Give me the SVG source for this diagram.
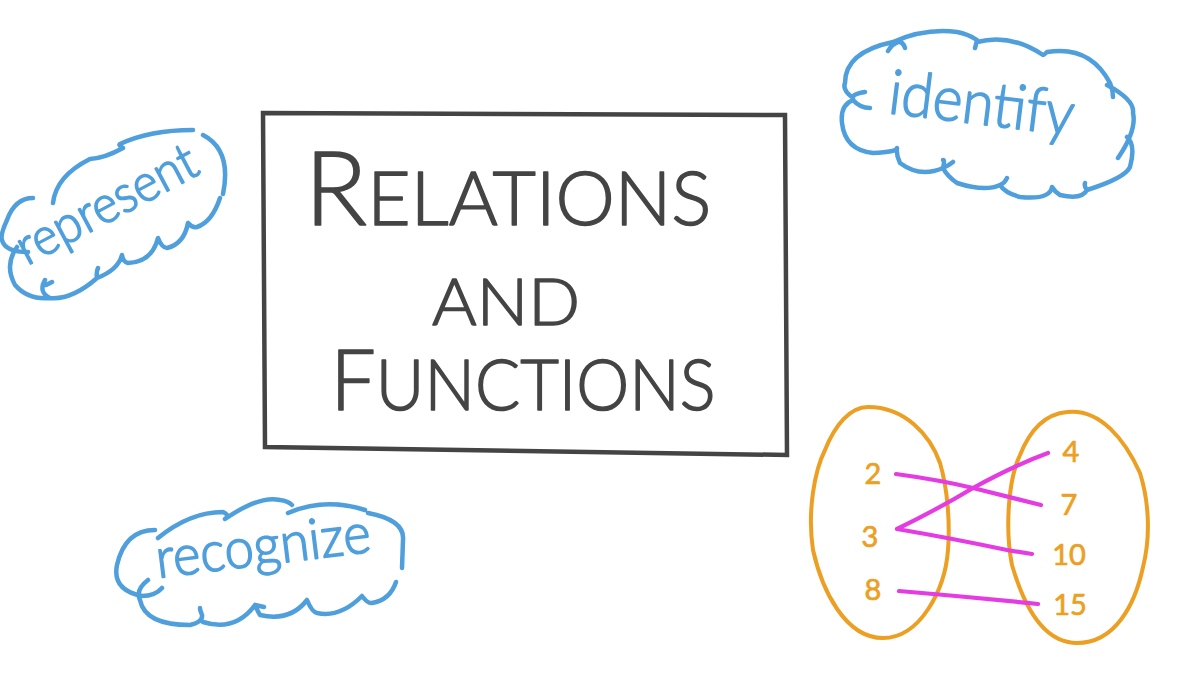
<svg xmlns="http://www.w3.org/2000/svg" width="1200" height="675" viewBox="0 0 1200 675">
<style>
.cloud{fill:none;stroke:#4f9fdc;stroke-width:4.5;stroke-linecap:round;stroke-linejoin:round}
.hand{font-family:"Lato","Open Sans",sans-serif;font-weight:300;fill:#4f9fdc;stroke:#4f9fdc;stroke-width:1.6;stroke-linejoin:round}
.title{font-family:"Lato","Open Sans",sans-serif;font-weight:300;fill:#444;stroke:#444;stroke-width:1.5;stroke-linejoin:round;text-anchor:middle}
.set{fill:none;stroke:#ec9f22;stroke-width:4;stroke-linecap:round}
.num{font-family:"Lato","Open Sans",sans-serif;font-size:29px;fill:#ec9f22;stroke:#ec9f22;stroke-width:.7;text-anchor:middle}
.map{fill:none;stroke:#e43be2;stroke-width:4.2;stroke-linecap:round;stroke-linejoin:round}
</style>
<rect width="1200" height="675" fill="#fff"/>
<g id="title-box">
<path d="M263 113L785 115L787 455L265 447Z" fill="none" stroke="#444" stroke-width="4.5"/>
<text class="title" x="508" y="225" font-size="74" textLength="407" lengthAdjust="spacingAndGlyphs"><tspan font-size="102">R</tspan>ELATIONS</text>
<text class="title" x="506" y="325" font-size="66" textLength="148" lengthAdjust="spacingAndGlyphs">AND</text>
<text class="title" x="523" y="410" font-size="70" textLength="385" lengthAdjust="spacingAndGlyphs"><tspan font-size="84">F</tspan>UNCTIONS</text>
</g>
<g id="cloud-represent">
<path class="cloud" d="M53 203Q56 176 90 159Q105 158 123 148Q118 145 120 144Q150 130 193 130M203 135Q232 150 223 194M220 198Q212 222 197 227Q192 228 188 223Q184 244 167 248Q162 248 158 238Q152 262 128 263Q123 262 122 255Q118 270 97 278Q96 272 98 268M97 278Q72 300 50 298Q28 300 15 285Q4 265 17 247M33 198Q15 198 7 220Q0 235 2 240Q5 252 28 252M50 298Q38 292 45 280M46 285L52 282"/>
<text class="hand" transform="translate(27 266) rotate(-28)" font-size="52" textLength="198" lengthAdjust="spacingAndGlyphs">represent</text>
</g>
<g id="cloud-identify">
<path class="cloud" d="M865 92Q852 94 853 98Q842 90 845 83Q845 52 893 42Q903 40 905 48M898 42Q892 44 888 51M893 42Q925 28 957 32Q968 34 977 40Q976 45 975 48M977 42Q1010 33 1043 55Q1044 55 1047 52Q1090 45 1110 83Q1113 90 1113 97M1107 85Q1135 100 1133 113Q1137 130 1118 158M1127 137Q1136 145 1130 167Q1125 178 1087 190Q1084 187 1085 183M1087 190Q1082 200 1060 195Q1055 192 1052 187Q1050 200 1020 197Q1005 193 1000 185Q1005 183 1007 178M1000 185Q985 192 957 183Q947 176 943 168Q948 166 953 162M943 168Q945 160 943 160M943 168Q920 178 900 163Q896 155 897 148Q897 152 873 153Q845 150 842 123Q840 105 853 100Q860 108 870 108"/>
<text class="hand" transform="translate(887 113) rotate(7)" font-size="62" textLength="186" lengthAdjust="spacingAndGlyphs">identify</text>
</g>
<g id="cloud-recognize">
<path class="cloud" d="M155 530Q125 530 117 565Q112 590 142 596Q155 596 162 588M158 538Q190 512 223 512Q230 515 225 519Q260 495 280 500Q288 501 292 505M288 513Q325 497 365 510M368 513Q405 520 403 540L402 568M148 580Q135 590 140 600Q145 625 190 625Q203 622 202 615Q200 610 200 608M203 622Q235 632 255 605Q258 612 260 615Q290 622 307 600Q312 612 317 613Q340 618 362 596Q368 604 372 603Q390 600 396 582M255 605L264 607"/>
<text class="hand" transform="translate(158 578) rotate(-7)" font-size="56" textLength="216" lengthAdjust="spacingAndGlyphs">recognize</text>
</g>
<g id="set-left">
<path class="set" d="M868 407C905 407 930 435 940 463C948 490 950 525 948 550C945 590 920 638 883 638C845 638 822 590 813 550C807 510 815 470 825 450C835 425 850 407 868 407Z"/>
<text class="num" x="873" y="484">2</text>
<text class="num" x="870" y="547">3</text>
<text class="num" x="873" y="600">8</text>
</g>
<g id="set-right">
<path class="set" d="M1067 412C1100 408 1125 440 1140 473C1150 505 1150 540 1143 567C1135 605 1115 643 1077 643C1045 643 1025 610 1012 565C1005 530 1008 480 1020 455C1030 430 1045 414 1067 412Z"/>
<text class="num" x="1071" y="462">4</text>
<text class="num" x="1069" y="515">7</text>
<text class="num" x="1069" y="565">10</text>
<text class="num" x="1070" y="615">15</text>
</g>
<g id="connectors">
<path class="map" d="M896 474Q940 480 973 488L1041 505"/>
<path class="map" d="M1048 453Q1015 465 973 488Q940 508 897 529Q950 538 1007 550L1032 554"/>
<path class="map" d="M899 591Q970 597 1038 604"/>
</g>
</svg>
